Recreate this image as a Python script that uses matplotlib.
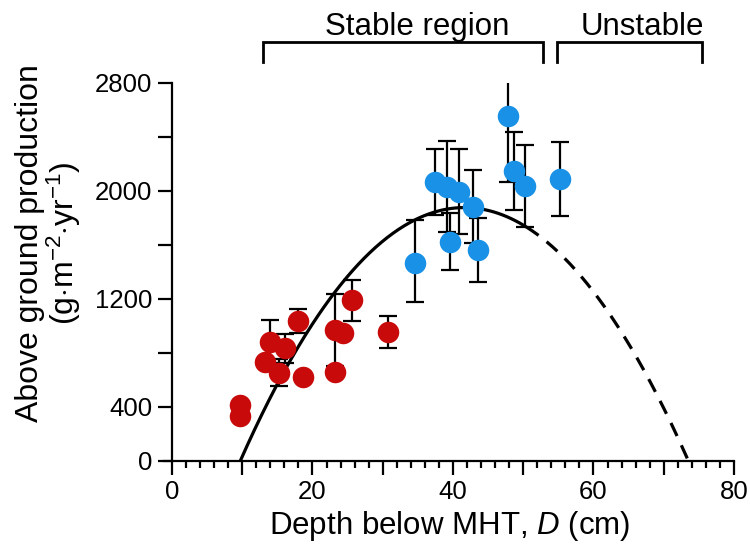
import numpy as np
import matplotlib
matplotlib.use("Agg")
import matplotlib.pyplot as plt
from matplotlib.ticker import MultipleLocator, FuncFormatter

plt.rcParams['font.family'] = ['Liberation Sans', 'DejaVu Sans']
plt.rcParams['mathtext.fontset'] = 'custom'
plt.rcParams['mathtext.rm'] = 'Liberation Sans'
plt.rcParams['mathtext.it'] = 'Liberation Sans:italic'

# ---- data ----
red_x = [9.7, 9.7, 13.9, 16.1, 13.2, 15.2, 17.9, 18.7, 23.2, 24.4, 23.2, 25.6, 30.8]
red_y = [415, 330, 881, 832, 733, 650, 1037, 618, 968, 944, 659, 1190, 951]
red_err = [0, 0, 163, 106, 0, 100, 90, 0, 265, 0, 0, 152, 117]

blue_x = [34.6, 37.4, 39.1, 40.8, 42.9, 39.6, 43.5, 47.9, 48.7, 50.2, 55.3]
blue_y = [1462, 2067, 2030, 1993, 1881, 1622, 1561, 2556, 2146, 2035, 2087]
blue_err_lo = [285, 245, 335, 315, 272, 210, 235, 495, 290, 305, 272]
blue_err_hi = [320, 245, 338, 316, 272, 210, 235, 255, 290, 305, 272]

# fitted parabola B = c0 + c1*D + c2*D^2
fit_c0, fit_c1, fit_c2 = -1319.8, 153.52, -1.8444
fit_solid_range = (9.73, 50.5)
fit_dashed_range = (50.5, 73.5)

regions = ["Stable region", "Unstable"]
region_spans = [(13.0, 52.8), (54.8, 75.5)]
region_text_x = [34.9, 67.0]

x_tick_labels = {0: "0", 20: "20", 40: "40", 60: "60", 80: "80"}
y_tick_labels = {0: "0", 400: "400", 1200: "1200", 2000: "2000", 2800: "2800"}

red_color = "#C80A0A"
blue_color = "#1891E6"

fig = plt.figure(figsize=(7.5, 5.5), dpi=100)
ax = fig.add_axes([0.2181, 0.1624, 0.7605, 0.6873])

def fit(x):
    x = np.asarray(x)
    return fit_c0 + fit_c1 * x + fit_c2 * x ** 2

xs = np.linspace(*fit_solid_range, 200)
ax.plot(xs, fit(xs), color="black", lw=2.3, zorder=2, solid_capstyle='butt')
xd = np.linspace(*fit_dashed_range, 200)
ax.plot(xd, fit(xd), color="black", lw=2.3, zorder=2, dashes=(4.5, 3.2))

ax.errorbar(red_x, red_y, yerr=red_err, fmt="none", ecolor="black",
            elinewidth=1.6, capsize=6.5, capthick=1.6, zorder=3)
ax.errorbar(blue_x, blue_y, yerr=[blue_err_lo, blue_err_hi], fmt="none",
            ecolor="black", elinewidth=1.6, capsize=6.5, capthick=1.6, zorder=3)
ax.plot(red_x, red_y, "o", color=red_color, ms=15.5, mew=0, zorder=4)
ax.plot(blue_x, blue_y, "o", color=blue_color, ms=15.5, mew=0, zorder=4)

ax.set_xlim(-1.2, 80)
ax.set_ylim(0, 2800)
for s in ["top", "right"]:
    ax.spines[s].set_visible(False)
ax.spines["left"].set_position(("data", 0))
for s in ["left", "bottom"]:
    ax.spines[s].set_linewidth(1.6)

ax.xaxis.set_major_locator(MultipleLocator(10))
ax.xaxis.set_minor_locator(MultipleLocator(2))
ax.xaxis.set_major_formatter(FuncFormatter(lambda v, p: x_tick_labels.get(int(round(v)), "")))
ax.yaxis.set_major_locator(MultipleLocator(400))
ax.yaxis.set_major_formatter(FuncFormatter(lambda v, p: y_tick_labels.get(int(round(v)), "")))
ax.tick_params(axis="both", which="major", direction="out", length=10, width=1.6,
               labelsize=18.5, pad=4)
ax.tick_params(axis="x", which="minor", direction="out", length=5, width=1.6)

fig.text(450 / 750, 1 - 526 / 550, "Depth below MHT, $\\mathit{D}$ (cm)",
         ha="center", va="center", fontsize=22.5)
fig.text(49 / 750, 1 - 243 / 550,
         "Above ground production\n(g$\\cdot$m$^{-2}$$\\cdot$yr$^{-1}$)",
         ha="center", va="center", rotation=90, fontsize=23, multialignment="center",
         linespacing=1.0)

# region brackets
top_y, bot_y = 3099, 2956
for name, (x0, x1), tx in zip(regions, region_spans, region_text_x):
    ax.plot([x0, x0, x1, x1], [bot_y, top_y, top_y, bot_y], color="black",
            lw=2.0, clip_on=False, solid_joinstyle='miter')
    ax.text(tx, 3150, name, ha="center", va="baseline", fontsize=22.5, clip_on=False)

fig.savefig("out.png", dpi=100)
